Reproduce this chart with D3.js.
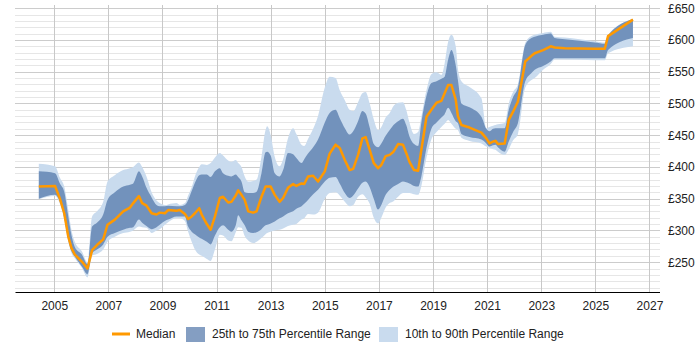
<!DOCTYPE html>
<html>
<head>
<meta charset="utf-8">
<script src="https://cdn.jsdelivr.net/npm/d3@7"></script>
<style>
  body { margin: 0; background: #fff; }
  svg { display: block; font-family: "Liberation Sans", Arial, sans-serif; }
</style>
</head>
<body>
<div id="wrapper"></div>
<script>
// Dates as decimal years
const dates = [2004.43, 2005.03, 2005.21, 2005.37, 2005.52, 2005.64, 2005.76, 2006.02, 2006.23, 2006.40,
  2006.58, 2006.81, 2006.97, 2007.24, 2007.55, 2007.80, 2007.92, 2008.13, 2008.25, 2008.41,
  2008.60, 2008.78, 2008.90, 2009.09, 2009.21, 2009.52, 2009.64, 2009.83, 2009.95, 2010.08,
  2010.20, 2010.36, 2010.45, 2010.64, 2010.78, 2010.94, 2011.12, 2011.24, 2011.43, 2011.55,
  2011.71, 2011.80, 2011.92, 2012.04, 2012.17, 2012.35, 2012.48, 2012.66, 2012.81, 2012.87,
  2013.00, 2013.15, 2013.33, 2013.46, 2013.64, 2013.83, 2013.95, 2014.14, 2014.24, 2014.38,
  2014.57, 2014.75, 2015.00, 2015.18, 2015.40, 2015.55, 2015.74, 2015.92, 2016.05, 2016.23,
  2016.39, 2016.51, 2016.66, 2016.81, 2016.97, 2017.09, 2017.25, 2017.40, 2017.54, 2017.71,
  2017.89, 2018.01, 2018.13, 2018.30, 2018.45, 2018.57, 2018.76, 2018.94, 2019.13, 2019.31,
  2019.43, 2019.56, 2019.68, 2019.84, 2019.92, 2020.05, 2020.35, 2020.79, 2020.97, 2021.09,
  2021.22, 2021.31, 2021.40, 2021.65, 2021.80, 2021.96, 2022.14, 2022.41, 2022.64, 2022.76,
  2023.07, 2023.35, 2023.50, 2023.87, 2024.98, 2025.35, 2025.47, 2026.39];

const p10 = [349, 354, 342, 317, 282, 264, 256, 241, 226, 260,
  263, 270, 282, 290, 296, 298, 300, 306, 305, 304,
  296, 300, 302, 309, 313, 319, 319, 315, 298, 282,
  270, 262, 260, 255, 252, 270, 293, 292, 284, 283,
  297, 305, 304, 291, 284, 280, 282, 288, 294, 296,
  298, 300, 301, 303, 307, 309, 310, 317, 319, 326,
  325, 328, 350, 359, 360, 355, 345, 338, 340, 353,
  357, 352, 342, 320, 311, 320, 336, 343, 346, 353,
  359, 359, 359, 357, 356, 370, 415, 443, 455, 463,
  468, 474, 468, 460, 458, 446, 441, 437, 432, 430,
  428, 427, 424, 419, 428, 442, 452, 525, 537, 540,
  553, 562, 569, 569, 568, 568, 579, 590];

const p25 = [350, 356, 345, 320, 285, 267, 259, 243, 231, 264,
  270, 278, 290, 296, 301, 304, 305, 317, 312, 307,
  302, 305, 309, 315, 317, 322, 322, 322, 306, 298,
  294, 289, 287, 282, 278, 292, 305, 308, 301, 298,
  308, 324, 316, 308, 298, 296, 297, 302, 308, 309,
  311, 314, 319, 322, 327, 330, 334, 338, 342, 348,
  357, 364, 377, 383, 384, 374, 359, 351, 355, 366,
  375, 377, 368, 350, 333, 340, 356, 364, 369, 373,
  377, 376, 374, 370, 369, 385, 430, 460, 470, 478,
  483, 493, 485, 472, 469, 452, 447, 443, 437, 432,
  434, 435, 431, 424, 440, 455, 469, 535, 548, 553,
  559, 566, 571, 571, 571, 571, 584, 603];

const median = [369, 370, 350, 327, 290, 272, 262, 251, 240, 269,
  277, 286, 309, 317, 330, 336, 343, 354, 343, 339,
  327, 325, 328, 327, 332, 331, 332, 326, 318, 322,
  327, 335, 325, 310, 301, 322, 351, 353, 344, 345,
  355, 363, 356, 348, 330, 328, 330, 353, 369, 369,
  369, 356, 345, 351, 367, 373, 370, 374, 373, 385,
  386, 377, 393, 421, 435, 430, 411, 395, 397, 419,
  445, 447, 427, 406, 398, 403, 417, 419, 424, 436,
  435, 422, 408, 395, 394, 427, 479, 490, 501, 504,
  516, 529, 529, 506, 480, 466, 462, 454, 445, 437,
  440, 441, 436, 437, 474, 487, 503, 566, 575, 579,
  584, 590, 588, 587, 586, 586, 606, 632];

const p75 = [393, 390, 374, 361, 322, 292, 274, 262, 247, 306,
  312, 325, 348, 360, 369, 372, 374, 393, 385, 367,
  352, 340, 338, 338, 339, 338, 338, 340, 348, 362,
  375, 387, 388, 388, 384, 393, 398, 390, 386, 385,
  388, 384, 377, 360, 359, 359, 361, 390, 423, 424,
  418, 390, 385, 395, 422, 420, 414, 406, 412, 421,
  431, 443, 470, 485, 490, 477, 461, 451, 456, 472,
  488, 484, 462, 436, 431, 437, 449, 458, 466, 472,
  476, 466, 448, 436, 433, 470, 512, 532, 535, 539,
  542, 569, 584, 560, 537, 500, 494, 479, 460, 456,
  460, 461, 461, 461, 490, 510, 525, 592, 603, 605,
  608, 610, 603, 601, 596, 594, 607, 633];

const p90 = [405, 401, 383, 369, 332, 300, 282, 267, 250, 322,
  330, 345, 377, 387, 395, 398, 400, 407, 400, 385,
  360, 347, 343, 340, 341, 343, 340, 343, 355, 368,
  385, 400, 404, 403, 406, 415, 422, 418, 410, 408,
  411, 406, 400, 385, 377, 378, 380, 416, 458, 464,
  450, 416, 401, 412, 445, 461, 452, 435, 433, 444,
  460, 480, 525, 542, 540, 521, 505, 490, 488, 502,
  516, 518, 500, 475, 458, 463, 478, 485, 496, 501,
  502, 490, 470, 452, 455, 479, 521, 546, 549, 545,
  563, 597, 608, 590, 555, 535, 526, 508, 461, 463,
  465, 466, 467, 469, 500, 518, 530, 595, 606, 608,
  611, 613, 605, 604, 598, 596, 608, 633];

const xTicks = [2005, 2007, 2009, 2011, 2013, 2015, 2017, 2019, 2021, 2023, 2025, 2027];
const yTicks = [250, 300, 350, 400, 450, 500, 550, 600, 650];

const rows = dates.map((d, i) => ({
  date: d, p10: p10[i], p25: p25[i], median: median[i], p75: p75[i], p90: p90[i]
}));

const dimensions = {
  width: 700,
  height: 350,
  margins: { top: 5, right: 40, bottom: 58, left: 15 },
};
dimensions.boundedWidth = dimensions.width - dimensions.margins.left - dimensions.margins.right;
dimensions.boundedHeight = dimensions.height - dimensions.margins.top - dimensions.margins.bottom;

const svg = d3.select("#wrapper")
  .append("svg")
  .attr("width", dimensions.width)
  .attr("height", dimensions.height);

const bounds = svg.append("g")
  .attr("transform", `translate(${dimensions.margins.left},${dimensions.margins.top})`);

// scales
const xScale = d3.scaleLinear()
  .domain([2003.55, 2027.39])
  .range([0, dimensions.boundedWidth]);

const yScale = d3.scaleLinear()
  .domain([203, 655])
  .range([dimensions.boundedHeight, 0]);

// grid: minor then major horizontal lines
const minorTicks = d3.range(210, 651, 10).filter(v => v % 50 !== 0);
bounds.append("g")
  .selectAll("line")
  .data(minorTicks)
  .join("line")
  .attr("x1", 0)
  .attr("x2", dimensions.boundedWidth)
  .attr("y1", d => Math.round(yScale(d)) + 0.5)
  .attr("y2", d => Math.round(yScale(d)) + 0.5)
  .attr("stroke", "#e6e6e6");

bounds.append("g")
  .selectAll("line")
  .data(yTicks)
  .join("line")
  .attr("x1", 0)
  .attr("x2", dimensions.boundedWidth)
  .attr("y1", d => Math.round(yScale(d)) + 0.5)
  .attr("y2", d => Math.round(yScale(d)) + 0.5)
  .attr("stroke", "#cccccc");

bounds.append("g")
  .selectAll("line")
  .data(xTicks)
  .join("line")
  .attr("x1", d => Math.round(xScale(d)) + 0.5)
  .attr("x2", d => Math.round(xScale(d)) + 0.5)
  .attr("y1", 0)
  .attr("y2", dimensions.boundedHeight)
  .attr("stroke", "#c8c8c8");

// bands
const outerArea = d3.area()
  .x(d => xScale(d.date))
  .y0(d => yScale(d.p10))
  .y1(d => yScale(d.p90))
  .curve(d3.curveMonotoneX);

const innerArea = d3.area()
  .x(d => xScale(d.date))
  .y0(d => yScale(d.p25))
  .y1(d => yScale(d.p75))
  .curve(d3.curveMonotoneX);

const lightBlue = "#c9dbee";
const darkBlue = "rgba(68,108,163,0.66)";

bounds.append("path")
  .datum(rows)
  .attr("d", outerArea)
  .attr("fill", lightBlue);

bounds.append("path")
  .datum(rows)
  .attr("d", innerArea)
  .attr("fill", darkBlue);

const medianLine = d3.line()
  .x(d => xScale(d.date))
  .y(d => yScale(d.median));

bounds.append("path")
  .datum(rows)
  .attr("d", medianLine)
  .attr("fill", "none")
  .attr("stroke", "#ff9900")
  .attr("stroke-width", 2.5)
  .attr("stroke-linejoin", "round");

// axes
const xAxis = bounds.append("g")
  .attr("transform", `translate(0,${dimensions.boundedHeight})`)
  .call(d3.axisBottom(xScale).tickValues(xTicks).tickFormat(d3.format("d")).tickSize(0).tickPadding(9));
xAxis.select(".domain").attr("stroke", "#000").attr("d", `M0.5,0.5H${dimensions.boundedWidth}`);
xAxis.selectAll("text").attr("font-size", 12).attr("fill", "#222")
  .attr("font-family", "'Liberation Sans', Arial, sans-serif");

const yAxis = bounds.append("g")
  .attr("transform", `translate(${dimensions.boundedWidth},0)`)
  .call(d3.axisRight(yScale).tickValues(yTicks).tickFormat(d => "£" + d).tickSize(0).tickPadding(8));
yAxis.select(".domain").remove();
yAxis.selectAll("text").attr("font-size", 12).attr("fill", "#222")
  .attr("font-family", "'Liberation Sans', Arial, sans-serif");

// legend
const legend = svg.append("g").attr("transform", "translate(0,334)");
const legendItems = [
  { label: "Median", type: "line", x: 112 },
  { label: "25th to 75th Percentile Range", type: "dark", x: 186 },
  { label: "10th to 90th Percentile Range", type: "light", x: 379 },
];
legendItems.forEach(item => {
  const g = legend.append("g").attr("transform", `translate(${item.x},0)`);
  if (item.type === "line") {
    g.append("line").attr("x1", 0).attr("x2", 18).attr("y1", 0).attr("y2", 0)
      .attr("stroke", "#ff9900").attr("stroke-width", 3);
  } else {
    g.append("rect").attr("x", 0).attr("y", -7).attr("width", 19).attr("height", 15)
      .attr("fill", item.type === "dark" ? darkBlue : lightBlue);
  }
  g.append("text")
    .attr("x", item.type === "line" ? 24 : 26)
    .attr("y", 0)
    .attr("dy", "0.35em")
    .attr("font-size", 12)
    .attr("fill", "#222")
    .text(item.label);
});
</script>
</body>
</html>
